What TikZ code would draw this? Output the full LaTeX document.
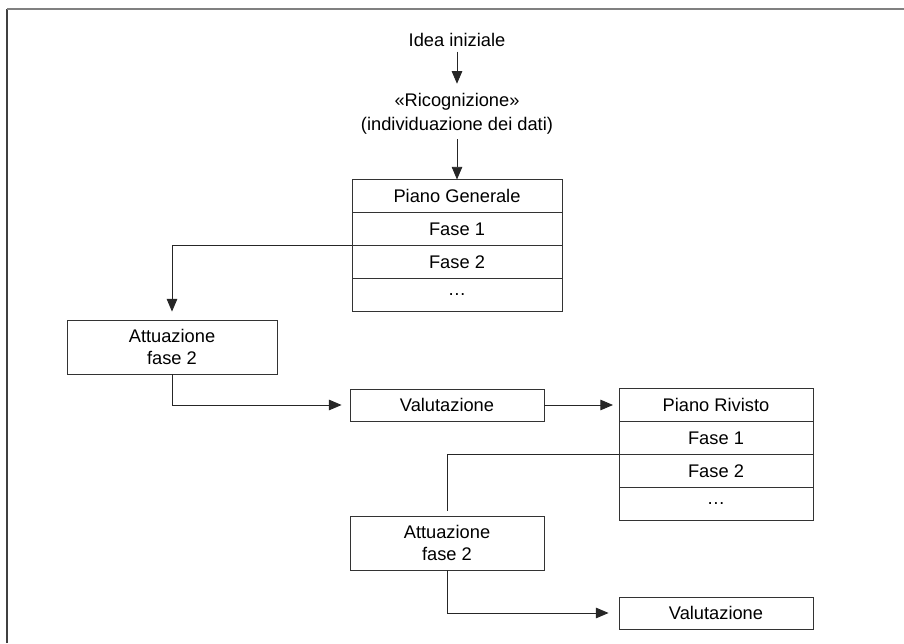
\documentclass[tikz,border=0pt]{standalone}
\usepackage{fontspec}
\setmainfont{Liberation Sans}
\usetikzlibrary{arrows.meta, positioning}

\begin{document}
\begin{tikzpicture}[
    font=\fontsize{13}{15}\selectfont,
    box/.style={draw=black!80, line width=0.6pt, align=center, inner sep=2pt},
    row/.style={draw=black!80, line width=0.6pt, minimum height=0.825cm, outer sep=0pt, inner sep=2pt},
    flow/.style={line width=0.6pt, black!85, -{Triangle[length=9pt, width=7.5pt]}},
  ]
  \useasboundingbox (0,0) rectangle (22.6,16.075);

  % open frame (top and left only)
  \draw[black!75, line width=1pt] (0.175,0) -- (0.175,15.84);
  \draw[gray, line width=1.4pt] (0.175,15.84) -- (22.6,15.84);

  % Starting point
  \node (idea) at (11.425,15.075) {Idea iniziale};
  \node[align=center, font=\fontsize{13}{17}\selectfont] (ricog) at (11.425,13.225) {«Ricognizione»\\(individuazione dei dati)};

  % Piano Generale
  \node[row, minimum width=5.25cm] (pg0) at (11.425,11.175) {Piano Generale};
  \node[row, minimum width=5.25cm, below=0pt of pg0] (pg1) {Fase 1};
  \node[row, minimum width=5.25cm, below=0pt of pg1] (pg2) {Fase 2};
  \node[row, minimum width=5.25cm, below=0pt of pg2] (pg3) {\dots};

  % first cycle
  \node[box, minimum width=5.25cm, minimum height=1.35cm] (att1) at (4.3,7.4) {Attuazione\\fase 2};
  \node[box, minimum width=4.85cm, minimum height=0.8cm] (val1) at (11.175,5.95) {Valutazione};

  % Piano Rivisto
  \node[row, minimum width=4.85cm] (pr0) at (17.9,5.95) {Piano Rivisto};
  \node[row, minimum width=4.85cm, below=0pt of pr0] (pr1) {Fase 1};
  \node[row, minimum width=4.85cm, below=0pt of pr1] (pr2) {Fase 2};
  \node[row, minimum width=4.85cm, below=0pt of pr2] (pr3) {\dots};

  % second cycle
  \node[box, minimum width=4.85cm, minimum height=1.35cm] (att2) at (11.175,2.5) {Attuazione\\fase 2};
  \node[box, minimum width=4.85cm, minimum height=0.8cm] (val2) at (17.9,0.75) {Valutazione};

  % connectors
  \draw[flow, shorten >=0.12cm] (idea) -- (ricog);
  \draw[flow] (ricog) -- (pg0);
  \draw[flow, shorten >=0.2cm] (pg1.south west) -| (att1.north);
  \draw[flow, shorten >=0.2cm] (att1.south) |- (val1.west);
  \draw[flow, shorten >=0.15cm] (val1) -- (pr0);
  \draw[line width=0.6pt, black!85, shorten >=0.12cm] (pr1.south west) -| (att2.north);
  \draw[flow, shorten >=0.25cm] (att2.south) |- (val2.west);
\end{tikzpicture}
\end{document}
